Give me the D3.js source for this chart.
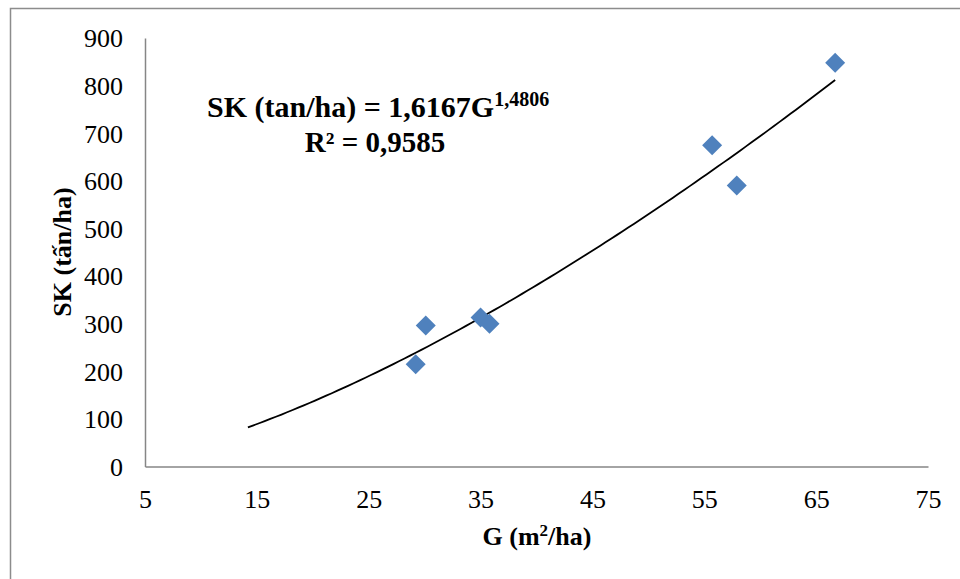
<!DOCTYPE html>
<html>
<head>
<meta charset="utf-8">
<script src="https://cdn.jsdelivr.net/npm/d3@7"></script>
<style>
  body { margin: 0; background: #fff; }
  svg { display: block; font-family: "Liberation Serif", "Times New Roman", serif; }
</style>
</head>
<body>
<svg id="chart"></svg>
<script>
// basal area G (m2/ha) vs. volume SK (tan/ha)
const gValues = [29.2, 30.1, 35.0, 35.8, 55.7, 57.9, 66.7];
const skValues = [215, 296, 313, 300, 675, 590, 848];
const xTicks = [5, 15, 25, 35, 45, 55, 65, 75];
const yTicks = [0, 100, 200, 300, 400, 500, 600, 700, 800, 900];
// power trendline printed on the chart: SK = a * G^b
const trendA = 1.6167;
const trendB = 1.4806;
const trendFrom = 14.2;

const width = 960;
const height = 579;
const margin = { top: 38, right: 32, bottom: 112.5, left: 145 };

const svg = d3.select("#chart").attr("width", width).attr("height", height);

const chartWidth = width - margin.left - margin.right;
const chartHeight = height - margin.top - margin.bottom;

// outer frame (only left and top edges are visible in the crop)
svg.append("rect")
  .attr("x", 10.5).attr("y", 8.5)
  .attr("width", width + 20).attr("height", height + 20)
  .attr("fill", "none")
  .attr("stroke", "#8c8c8c")
  .attr("stroke-width", 1.5);

const chart = svg.append("g")
  .attr("transform", `translate(${margin.left}, ${margin.top})`);

const xScale = d3.scaleLinear().domain([5, 75]).range([0, chartWidth]);
const yScale = d3.scaleLinear().domain([0, 900]).range([chartHeight, 0]);

const xAxis = d3.axisBottom(xScale).tickValues(xTicks).tickSize(0).tickPadding(0);
const yAxis = d3.axisLeft(yScale).tickValues(yTicks).tickSize(0).tickPadding(0);

const gx = chart.append("g")
  .attr("transform", `translate(0, ${chartHeight})`)
  .call(xAxis);
gx.select(".domain").attr("stroke", "#868686").attr("stroke-width", 1.5);
gx.selectAll("text")
  .attr("font-family", "Liberation Serif")
  .attr("font-size", 26)
  .attr("fill", "#000")
  .attr("dy", null)
  .attr("y", 41);

const gy = chart.append("g").call(yAxis);
gy.select(".domain").attr("stroke", "#868686").attr("stroke-width", 1.5);
gy.selectAll("text")
  .attr("font-family", "Liberation Serif")
  .attr("font-size", 26)
  .attr("fill", "#000")
  .attr("x", -22)
  .attr("dy", "0.34em");

// trendline
const trendPts = d3.range(trendFrom, d3.max(gValues) + 0.001, 0.5)
  .concat([d3.max(gValues)])
  .map((g) => [g, trendA * Math.pow(g, trendB)]);
chart.append("path")
  .datum(trendPts)
  .attr("fill", "none")
  .attr("stroke", "#000")
  .attr("stroke-width", 1.8)
  .attr("d", d3.line().x((d) => xScale(d[0])).y((d) => yScale(d[1])));

// diamonds
const points = gValues.map((g, i) => ({ g, sk: skValues[i] }));
chart.selectAll(".dot")
  .data(points)
  .enter()
  .append("path")
  .attr("class", "dot")
  .attr("transform", (d) => `translate(${xScale(d.g)}, ${yScale(d.sk)})`)
  .attr("d", "M0,-10L10,0L0,10L-10,0Z")
  .attr("fill", "#4f81bd");

// equation label
const eq = svg.append("text")
  .attr("x", 207).attr("y", 117)
  .attr("font-size", 30).attr("font-weight", "bold");
eq.append("tspan").text("SK (tan/ha) = 1,6167G");
eq.append("tspan").attr("font-size", 20).attr("dy", -11).text("1,4806");

svg.append("text")
  .attr("x", 375).attr("y", 152)
  .attr("text-anchor", "middle")
  .attr("font-size", 29).attr("font-weight", "bold")
  .text("R² = 0,9585");

// axis titles
const xt = svg.append("text")
  .attr("x", 537).attr("y", 545)
  .attr("text-anchor", "middle")
  .attr("font-size", 26).attr("font-weight", "bold");
xt.append("tspan").text("G (m");
xt.append("tspan").attr("font-size", 17).attr("dy", -9).text("2");
xt.append("tspan").attr("dy", 9).text("/ha)");

svg.append("text")
  .attr("transform", "translate(71, 252) rotate(-90)")
  .attr("text-anchor", "middle")
  .attr("font-size", 26).attr("font-weight", "bold")
  .text("SK (tấn/ha)");
</script>
</body>
</html>
